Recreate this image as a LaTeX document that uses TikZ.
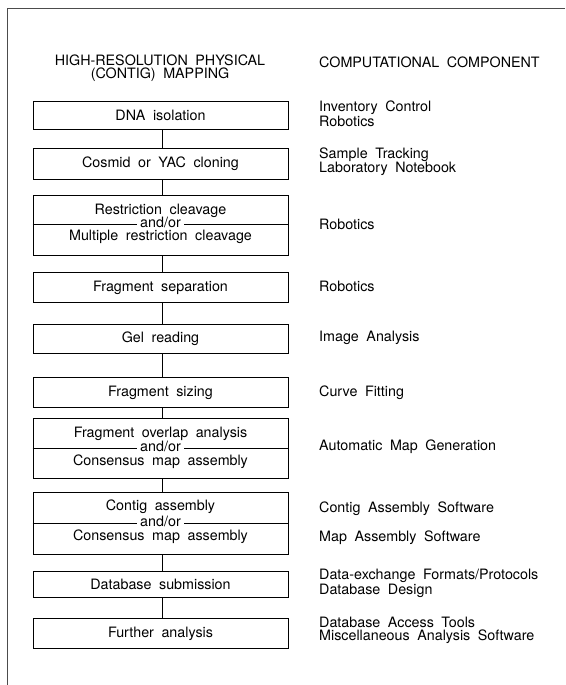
\documentclass[tikz,border=0pt]{standalone}
\usepackage{fontspec}
\setmainfont{TeX Gyre Heros}[WordSpace=1.9]
\begin{document}
\begin{tikzpicture}[x=1pt,y=-1pt,
  txt/.style={inner sep=0pt, font=\fontsize{14.3}{12.8}\selectfont},
  stepbox/.style={draw, line width=1pt, minimum width=255pt, inner sep=0pt, anchor=north, font=\fontsize{14.3}{12.8}\selectfont},
  rtxt/.style={txt, anchor=west, align=left},
  andor/.style={txt, fill=white, inner xsep=3pt, inner ysep=0pt},
  link/.style={line width=1pt},
  frame/.style={line width=1pt, black!70}
]
\useasboundingbox (0,0) rectangle (565,685);
% frame
\draw[frame] (565,9) -- (7,9) -- (7,685);

% headers
\node[txt, align=center] (h1) at (160,68) {HIGH-RESOLUTION PHYSICAL\\(CONTIG) MAPPING};
\node[txt, anchor=west] (h2) at (319,62) {COMPUTATIONAL COMPONENT};

% boxes
\node[stepbox, minimum height=28pt] (b1) at (160.5,101) {DNA isolation};
\node[stepbox, minimum height=31pt] (b2) at (160.5,148) {Cosmid or YAC cloning};
\node[stepbox, minimum height=60pt] (b3) at (160.5,195) {};
\node[stepbox, minimum height=30pt] (b4) at (160.5,272) {Fragment separation};
\node[stepbox, minimum height=29pt] (b5) at (160.5,324) {Gel reading};
\node[stepbox, minimum height=30pt] (b6) at (160.5,377) {Fragment sizing};
\node[stepbox, minimum height=60pt] (b7) at (160.5,418) {};
\node[stepbox, minimum height=62pt] (b8) at (160.5,492) {};
\node[stepbox, minimum height=26pt] (b9) at (160.5,571) {Database submission};
\node[stepbox, minimum height=30pt] (b10) at (160.5,618) {Further analysis};

% split boxes
\coordinate (s3) at (160.5,224);
\draw[link] (b3.west |- s3) -- (b3.east |- s3);
\node[txt] (t3a) at (160.5,211) {Restriction cleavage};
\node[andor] (t3b) at (160.5,222.5) {and/or};
\node[txt] (t3c) at (160.5,237) {Multiple restriction cleavage};

\coordinate (s7) at (160.5,448);
\draw[link] (b7.west |- s7) -- (b7.east |- s7);
\node[txt] (t7a) at (160.5,434) {Fragment overlap analysis};
\node[andor] (t7b) at (160.5,446.5) {and/or};
\node[txt] (t7c) at (160.5,462) {Consensus map assembly};

\coordinate (s8) at (160.5,523);
\draw[link] (b8.west |- s8) -- (b8.east |- s8);
\node[txt] (t8a) at (160.5,507) {Contig assembly};
\node[andor] (t8b) at (160.5,521.5) {and/or};
\node[txt] (t8c) at (160.5,537) {Consensus map assembly};

% connectors
\foreach \a/\b in {b1/b2,b2/b3,b3/b4,b4/b5,b5/b6,b6/b7,b7/b8,b8/b9,b9/b10}
  \draw[link] ([xshift=2pt]\a.south) -- ([xshift=2pt]\b.north);

% right column
\node[rtxt] (r1) at (319,114) {Inventory Control\\Robotics};
\node[rtxt] (r2) at (319,161.5) {Sample Tracking\\Laboratory Notebook};
\node[rtxt] (r3) at (319,224) {Robotics};
\node[rtxt] (r4) at (319,286) {Robotics};
\node[rtxt] (r5) at (319,338) {Image Analysis};
\node[rtxt] (r6) at (319,393) {Curve Fitting};
\node[rtxt] (r7) at (319,447) {Automatic Map Generation};
\node[rtxt] (r8) at (319,509) {Contig Assembly Software};
\node[rtxt] (r9) at (319,538) {Map Assembly Software};
\node[rtxt] (r10) at (319,583.5) {Data-exchange Formats/Protocols\\Database Design};
\node[rtxt] (r11) at (319,630) {Database Access Tools\\Miscellaneous Analysis Software};
\end{tikzpicture}
\end{document}
